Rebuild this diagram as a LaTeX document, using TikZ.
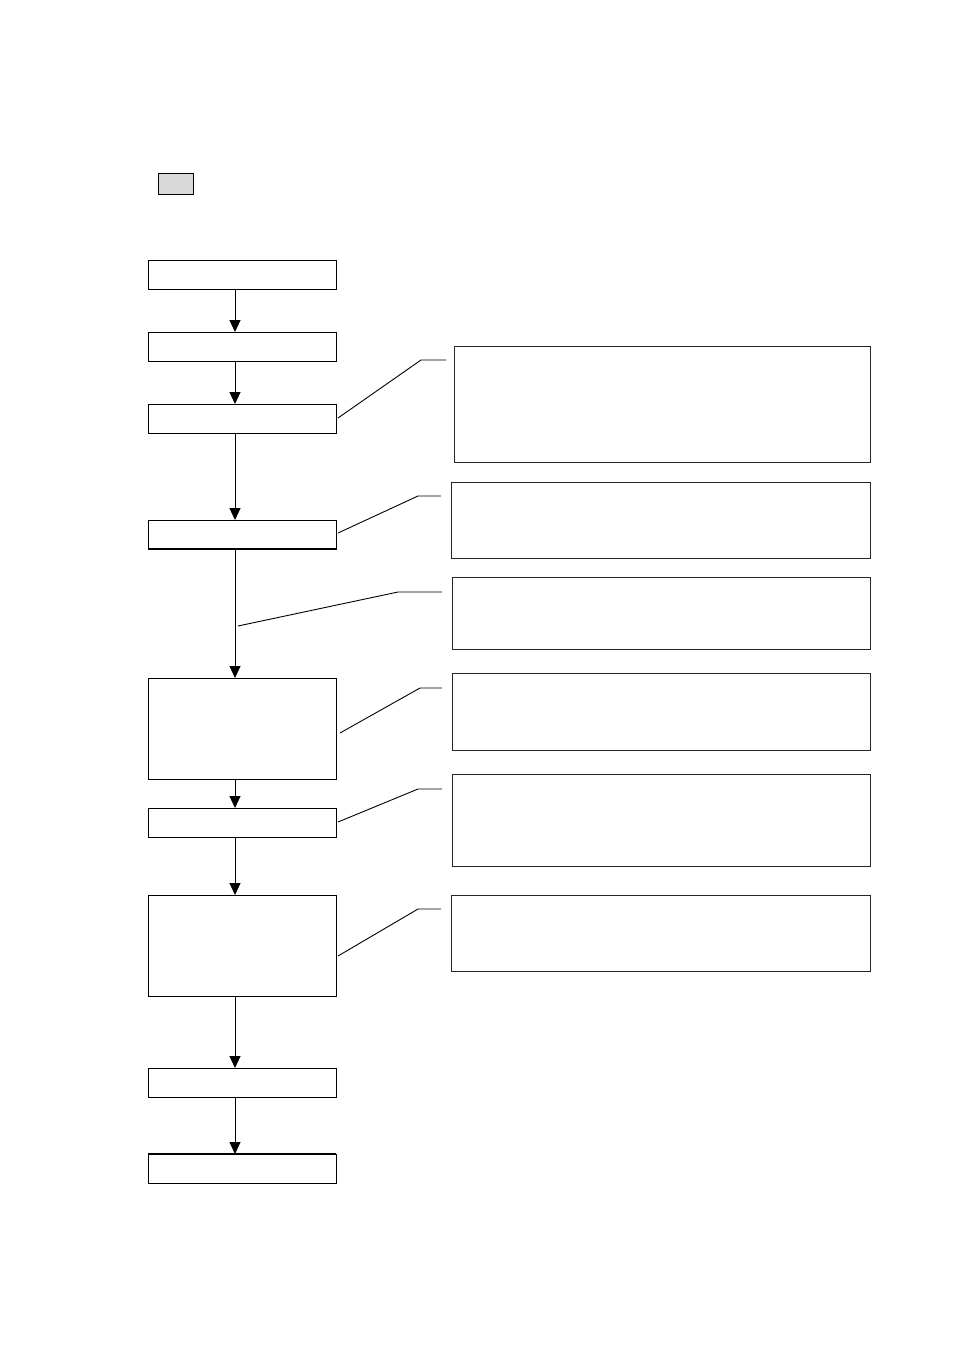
\documentclass[tikz,border=0pt]{standalone}
\usetikzlibrary{arrows.meta}
\begin{document}
\begin{tikzpicture}[x=1pt,y=-1pt,
  box/.style={draw=black,line width=1pt,minimum width=188pt,outer sep=0pt,inner sep=0pt},
  rbox/.style={draw=black!85,line width=1pt,outer sep=0pt,inner sep=0pt},
  arr/.style={line width=1pt,-{Triangle[length=12pt,width=11pt]}},
  call/.style={line width=0.9pt}]
\useasboundingbox (0,0) rectangle (954,1350);
\node[draw=black,line width=1pt,fill=black!15,minimum width=35pt,minimum height=21pt,inner sep=0pt] (g) at (175.5,183.5) {};
% left chain
\node[box,minimum height=29pt] (b1) at (242,274.5) {};
\node[box,minimum height=29pt] (b2) at (242,346.5) {};
\node[box,minimum height=29pt] (b3) at (242,418.5) {};
\node[box,minimum height=29pt] (b4) at (242,534.5) {};
\node[box,minimum height=101pt] (b5) at (242,728.5) {};
\node[box,minimum height=29pt] (b6) at (242,822.5) {};
\node[box,minimum height=101pt] (b7) at (242,945.5) {};
\node[box,minimum height=29pt] (b8) at (242,1082.5) {};
\node[box,minimum height=29pt] (b9) at (242,1168.5) {};
\draw[line width=1.8pt] (b4.south west) -- (b4.south east);
\draw[line width=1.8pt] (b9.north west) -- (b9.north east);
\coordinate (ax) at (235,0);
\foreach \a/\b in {b1/b2,b2/b3,b3/b4,b4/b5,b5/b6,b6/b7,b7/b8,b8/b9}
  \draw[arr] (\a.south -| ax) -- (\b.north -| ax);
% right boxes
\node[rbox,minimum width=416pt,minimum height=116pt] (r1) at (662,404) {};
\node[rbox,minimum width=419pt,minimum height=76pt] (r2) at (660.5,520) {};
\node[rbox,minimum width=418pt,minimum height=72pt] (r3) at (661,613) {};
\node[rbox,minimum width=418pt,minimum height=77pt] (r4) at (661,711.5) {};
\node[rbox,minimum width=418pt,minimum height=92pt] (r5) at (661,820) {};
\node[rbox,minimum width=419pt,minimum height=76pt] (r6) at (660.5,933) {};
% callouts
\coordinate (s1) at (338,418); \coordinate (k1) at (421,360); \coordinate (e1) at (446,360);
\coordinate (s2) at (338,533); \coordinate (k2) at (418,496); \coordinate (e2) at (441,496);
\coordinate (s3) at (238,626); \coordinate (k3) at (398,592); \coordinate (e3) at (442,592);
\coordinate (s4) at (340,733); \coordinate (k4) at (420,688); \coordinate (e4) at (442,688);
\coordinate (s5) at (338,822); \coordinate (k5) at (418,789); \coordinate (e5) at (442,789);
\coordinate (s6) at (338,956); \coordinate (k6) at (418,909); \coordinate (e6) at (441,909);
\foreach \i in {1,...,6}
  \draw[call] (s\i) -- (k\i) -- (e\i);
\end{tikzpicture}
\end{document}
